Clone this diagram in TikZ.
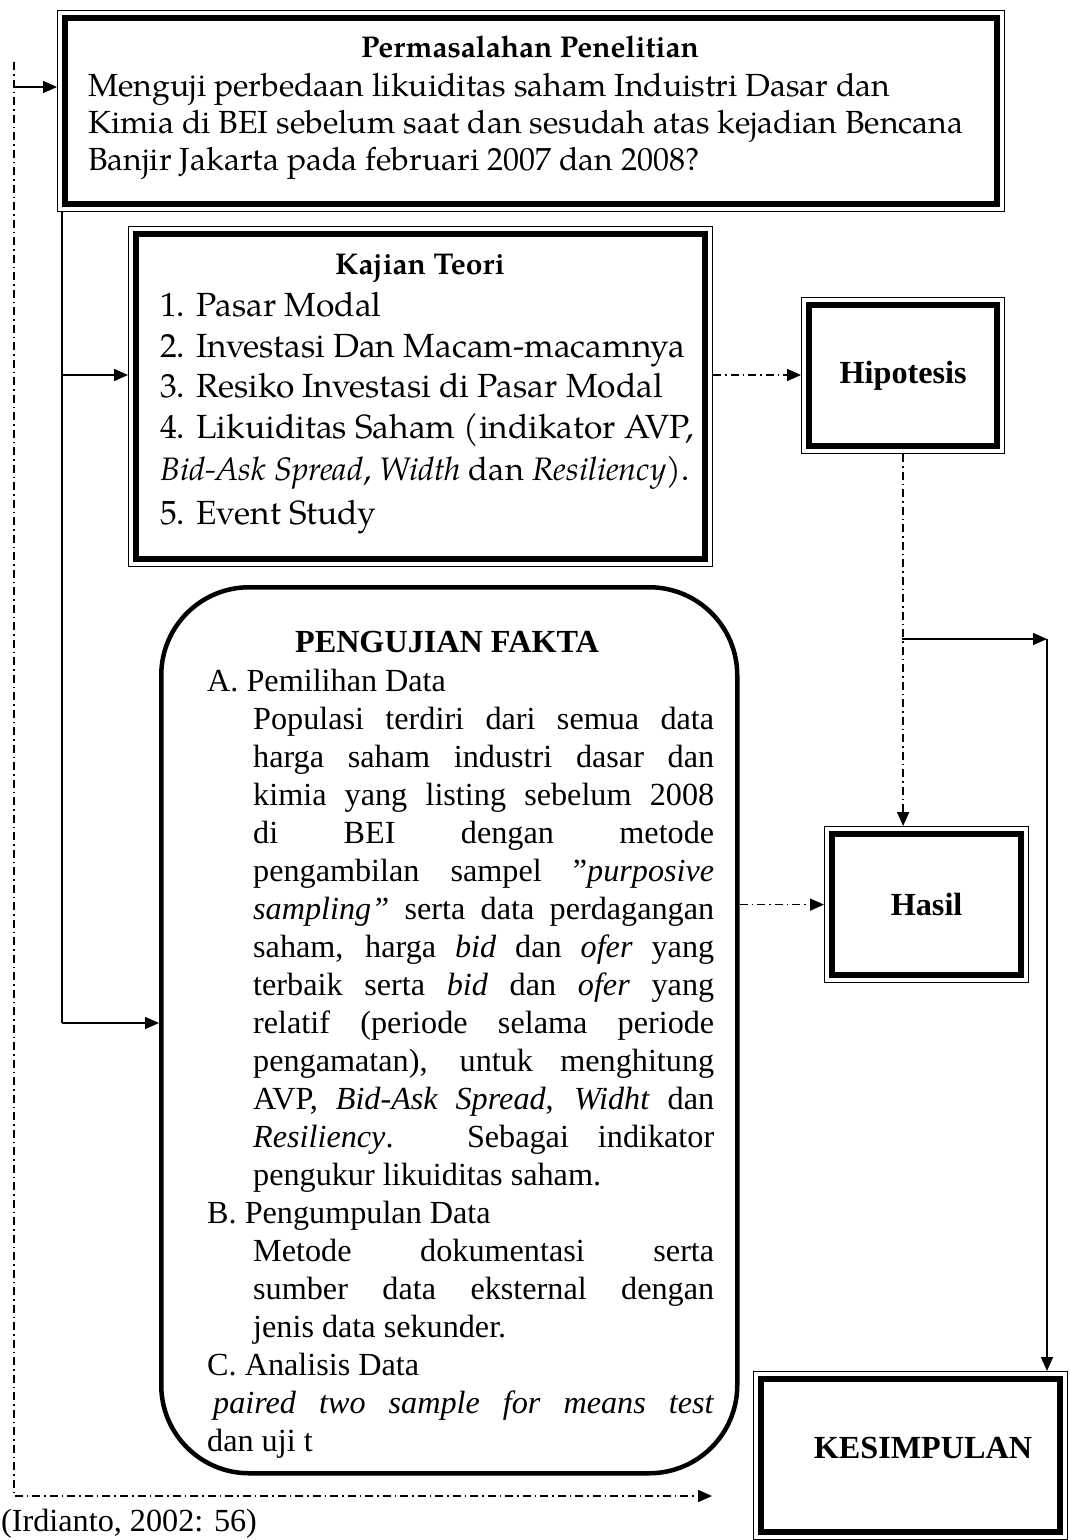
\documentclass[tikz,border=0pt]{standalone}
\usepackage{fontspec}
\setmainfont{Liberation Serif}
\newfontfamily\pal{TeX Gyre Pagella}
\usetikzlibrary{arrows.meta}
\newcommand\fpal{\pal\fontsize{32}{37}\selectfont}
\newcommand\fpalk{\pal\fontsize{33.5}{40}\selectfont}
\newcommand\fpalb{\pal\fontsize{30}{37}\selectfont\bfseries}
\newcommand\ftim{\fontsize{32.2}{38}\selectfont}
\newcommand\jl[1]{\makebox[461pt][s]{#1}}
\begin{document}
\begin{tikzpicture}[x=1pt,y=-1pt,
  dbox/.style={draw, line width=1.2pt, rectangle, inner sep=0pt, anchor=north west,
    path picture={\draw[line width=6.5pt]
      ([shift={(7.5pt,-7.5pt)}]path picture bounding box.north west) rectangle
      ([shift={(-7.5pt,7.5pt)}]path picture bounding box.south east);}},
  tx/.style={anchor=base west, inner sep=0pt},
  tp/.style={tx, font=\fpal},
  tk/.style={tx, font=\fpalk},
  tt/.style={tx, font=\ftim},
  ar/.style={line width=1.6pt, -{Triangle[length=14pt,width=12pt]}},
  dd/.style={line width=1.6pt, dash pattern=on 8pt off 4pt on 1.5pt off 4pt}
]
\useasboundingbox[fill=white] (0,0) rectangle (1069,1540);

% boxes
\node[dbox, minimum width=947pt, minimum height=201pt] (prob) at (57,10) {};
\node[dbox, minimum width=584pt, minimum height=340pt] (kaj) at (128,226) {};
\node[dbox, minimum width=203pt, minimum height=156pt, font=\ftim\bfseries] (hip) at (801,297) {Hipotesis};
\node[dbox, minimum width=204pt, minimum height=156pt, font=\ftim\bfseries] (has) at (824,826) {Hasil};
\node[dbox, minimum width=314pt, minimum height=168pt] (kes) at (753,1371) {};
\node[draw, rectangle, rounded corners=88pt, line width=4.5pt, inner sep=0pt, anchor=north west,
  minimum width=576pt, minimum height=886pt] (peng) at (159,585) {};

% Permasalahan text
\node[tx, anchor=base, font=\fpalb] (probT) at (530,57) {Permasalahan Penelitian};
\node[tp] (pr1) at (88,96) {Menguji perbedaan likuiditas saham Induistri Dasar dan};
\node[tp] (pr2) at (88,133) {Kimia di BEI sebelum saat dan sesudah atas kejadian Bencana};
\node[tp] (pr3) at (88,170) {Banjir Jakarta pada februari 2007 dan 2008?};

% Kajian text
\node[tx, anchor=base, font=\fpalb] (kajT) at (420,274) {Kajian Teori};
\node[tk] (k1) at (160,316) {1. Pasar Modal};
\node[tk] (k2) at (160,357) {2. Investasi Dan Macam-macamnya};
\node[tk] (k3) at (160,397) {3. Resiko Investasi di Pasar Modal};
\node[tk] (k4) at (160,438) {4. Likuiditas Saham (indikator AVP,};
\node[tx, font=\pal\fontsize{32.5}{40}\selectfont] (k5) at (160,480) {\textit{Bid-Ask Spread}, \textit{Width} dan \textit{Resiliency}).};
\node[tk] (k6) at (160,524) {5. Event Study};

% Pengujian text
\node[tt, anchor=base, font=\ftim\bfseries] (pengT) at (447,652) {PENGUJIAN FAKTA};
\node[tt] (pa) at (207,691) {A. Pemilihan Data};
\node[tt] (p1) at (253,729) {\jl{Populasi terdiri dari semua data}};
\node[tt] (p2) at (253,767) {\jl{harga saham industri dasar dan}};
\node[tt] (p3) at (253,805) {\jl{kimia yang listing sebelum 2008}};
\node[tt] (p4) at (253,843) {\jl{di BEI dengan metode}};
\node[tt] (p5) at (253,881) {\jl{pengambilan sampel ”\textit{purposive}}};
\node[tt] (p6) at (253,919) {\jl{\textit{sampling”} serta data perdagangan}};
\node[tt] (p7) at (253,957) {\jl{saham, harga \textit{bid} dan \textit{ofer} yang}};
\node[tt] (p8) at (253,995) {\jl{terbaik serta \textit{bid} dan \textit{ofer} yang}};
\node[tt] (p9) at (253,1033) {\jl{relatif (periode selama periode}};
\node[tt] (p10) at (253,1071) {\jl{pengamatan), untuk menghitung}};
\node[tt] (p11) at (253,1109) {\jl{AVP, \textit{Bid-Ask Spread}, \textit{Widht} dan}};
\node[tt] (p12) at (253,1147) {\jl{\textit{Resiliency}. Sebagai indikator}};
\node[tt] (p13) at (253,1185) {pengukur likuiditas saham.};
\node[tt] (pb) at (207,1223) {B. Pengumpulan Data};
\node[tt] (q1) at (253,1261) {\jl{Metode dokumentasi serta}};
\node[tt] (q2) at (253,1299) {\jl{sumber data eksternal dengan}};
\node[tt] (q3) at (253,1337) {jenis data sekunder.};
\node[tt] (pc) at (207,1375) {C. Analisis Data};
\node[tt] (r1) at (213,1413) {\makebox[501pt][s]{\textit{paired two sample for means test}}};
\node[tt] (r2) at (207,1451) {dan uji t};

\node[tt, anchor=base, font=\ftim\bfseries] (kesT) at (923,1458) {KESIMPULAN};
\node[tt] (src) at (1,1531) {(Irdianto, 2002: 56)};

% connectors
\coordinate (ls) at (14,62);
\coordinate (le) at (712,1496);
\draw[dd, -{Triangle[length=14pt,width=12pt]}] (ls) |- (le);
\coordinate (a1) at (14,87);
\draw[ar] (a1) -- (a1 -| prob.west);

\coordinate (b0) at (62,211);
\coordinate (b1) at (62,375);
\coordinate (b2) at (62,1023);
\draw[line width=1.6pt] (b0) -- (b2);
\draw[ar] (b1) -- (b1 -| kaj.west);
\draw[ar] (b2) -- (b2 -| peng.west);

\draw[dd, -{Triangle[length=14pt,width=12pt]}] (b1 -| kaj.east) -- (b1 -| hip.west);
\draw[dd, -{Triangle[length=14pt,width=12pt]}] (hip.south) -- (hip.south |- has.north);
\draw[dd, -{Triangle[length=14pt,width=12pt]}] (has.west -| peng.east) -- (has.west);

\coordinate (j) at (902,639);
\coordinate (rt) at (1047,639);
\draw[ar] (j) -- (rt);
\draw[ar] (rt) -- (rt |- kes.north);
\end{tikzpicture}
\end{document}
